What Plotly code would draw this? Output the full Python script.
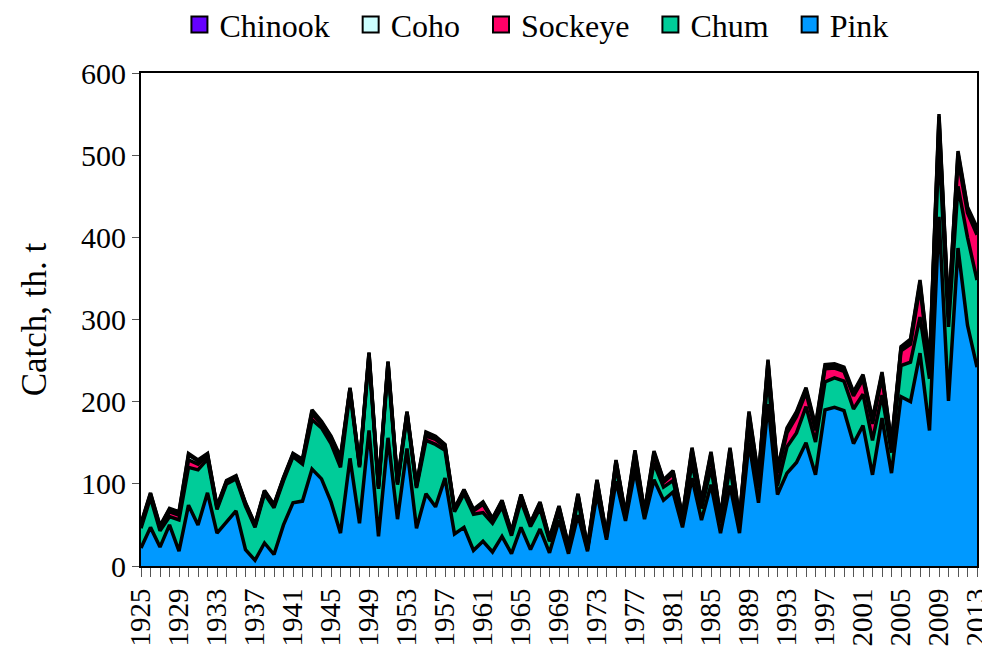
import plotly.graph_objects as go

years = list(range(1925, 2014))

pink = [22, 47, 23, 50, 18, 74, 50, 89, 40, 54,
        67, 20, 7, 28, 14, 50, 77, 79, 118, 106,
        78, 40, 131, 52, 165, 36, 156, 57, 143, 46,
        88, 72, 107, 39, 47, 19, 30, 17, 36, 15,
        47, 20, 45, 16, 56, 15, 62, 18, 88, 32,
        103, 55, 116, 57, 105, 80, 90, 47, 107, 56,
        99, 40, 98, 40, 150, 77, 197, 87, 113, 126,
        150, 111, 190, 193, 189, 149, 171, 111, 180, 113,
        206, 200, 259, 165, 425, 201, 387, 293, 242]

chum = [24, 36, 20, 10, 38, 46, 67, 41, 29, 46,
        39, 53, 40, 60, 57, 54, 56, 45, 60, 62,
        71, 80, 80, 68, 88, 58, 86, 42, 40, 49,
        65, 76, 34, 27, 41, 44, 35, 35, 36, 22,
        32, 28, 25, 14, 10, 6, 18, 2, 10, 3,
        18, 4, 10, 5, 20, 16, 14, 8, 18, 14,
        20, 12, 22, 10, 18, 18, 35, 11, 32, 36,
        44, 40, 34, 36, 36, 42, 38, 42, 28, 25,
        38, 48, 44, 63, 85, 90, 75, 107, 106]

sockeye = [3, 3, 3, 6, 6, 9, 7, 4, 2, 2,
           2, 2, 2, 2, 2, 2, 2, 4, 7, 5,
           6, 8, 4, 2, 4, 2, 4, 2, 3, 2,
           5, 6, 4, 2, 3, 4, 10, 4, 5, 3,
           5, 3, 5, 2, 4, 2, 5, 1, 4, 1,
           5, 2, 10, 2, 10, 6, 8, 4, 14, 6,
           14, 5, 18, 5, 14, 10, 13, 15, 17, 20,
           17, 14, 16, 12, 12, 16, 18, 20, 22, 8,
           18, 22, 37, 12, 30, 12, 33, 30, 55]

coho = [2, 2, 2, 3, 3, 6, 4, 2, 1, 1,
        1, 1, 1, 1, 1, 1, 1, 1, 3, 2,
        2, 3, 1, 1, 2, 1, 2, 1, 1, 1,
        4, 3, 2, 1, 1, 1, 2, 1, 2, 1,
        2, 1, 2, 1, 2, 1, 2, 1, 2, 1,
        2, 1, 3, 1, 3, 2, 3, 1, 3, 2,
        4, 2, 4, 2, 4, 3, 4, 4, 4, 4,
        4, 4, 3, 3, 3, 3, 4, 4, 4, 3,
        3, 4, 5, 4, 7, 4, 7, 5, 6]

chinook = [1, 1, 1, 1, 1, 2, 1, 1, 1, 1,
           1, 1, 1, 1, 1, 1, 1, 1, 2, 1,
           1, 2, 1, 1, 1, 1, 1, 1, 1, 1,
           1, 1, 1, 1, 1, 1, 1, 1, 1, 1,
           1, 1, 1, 1, 1, 1, 1, 1, 1, 1,
           1, 1, 2, 1, 2, 1, 1, 1, 2, 1,
           2, 1, 2, 1, 2, 1, 2, 2, 2, 2,
           2, 2, 2, 2, 2, 2, 2, 2, 2, 1,
           2, 2, 3, 2, 3, 2, 3, 2, 3]

series = [
    ("Pink", pink, "#0099FF"),
    ("Chum", chum, "#00CC99"),
    ("Sockeye", sockeye, "#FF0066"),
    ("Coho", coho, "#CCFFFF"),
    ("Chinook", chinook, "#6600FF"),
]

tick_years = list(range(1925, 2014, 4))
y_ticks = [0, 100, 200, 300, 400, 500, 600]

fig = go.Figure()
for name, vals, col in series:
    fig.add_trace(go.Scatter(
        x=years, y=vals, name=name, mode="lines",
        stackgroup="one", fillcolor=col,
        line=dict(color="black", width=3.5),
        showlegend=False,
    ))
# legend-only square swatches
for name, vals, col in series:
    label = name if name == "Pink" else name + "\u00a0\u00a0"
    fig.add_trace(go.Scatter(
        x=[None], y=[None], name=label, mode="markers",
        marker=dict(symbol="square", size=18, color=col,
                    line=dict(color="black", width=2)),
        showlegend=True,
    ))

font_family = "Liberation Serif"
fig.update_layout(
    width=982, height=646,
    margin=dict(l=133, r=13, t=65, b=88, autoexpand=False),
    paper_bgcolor="white", plot_bgcolor="white",
    font=dict(family=font_family, color="black", size=30),
    showlegend=True,
    legend=dict(orientation="h", traceorder="reversed",
                x=0.473, xanchor="center", y=1.098, yanchor="middle",
                font=dict(size=32, family=font_family),
                itemwidth=30, tracegroupgap=0, itemsizing="trace",
                bgcolor="rgba(0,0,0,0)"),
)
fig.update_xaxes(
    range=[1925, 2013],
    tickmode="array", tickvals=tick_years, ticktext=[str(y) for y in tick_years],
    tickangle=-90, tickfont=dict(size=29), ticklabeloverflow="allow",
    ticks="outside", ticklen=9, tickwidth=1, tickcolor="#555",
    minor=dict(dtick=1, tick0=1925, ticks="outside", ticklen=9, tickwidth=1, tickcolor="#555"),
    showline=True, linecolor="black", linewidth=2, mirror=True,
    showgrid=False, zeroline=False,
)
fig.update_yaxes(
    range=[0, 600], tickmode="array", tickvals=y_ticks,
    tickfont=dict(size=30),
    ticks="outside", ticklen=7, tickwidth=1, tickcolor="#555",
    showline=True, linecolor="black", linewidth=2, mirror=True,
    showgrid=False, zeroline=False,
    title=dict(text="Catch, th. t", font=dict(size=35), standoff=24),
)

fig.write_html("out.html")
